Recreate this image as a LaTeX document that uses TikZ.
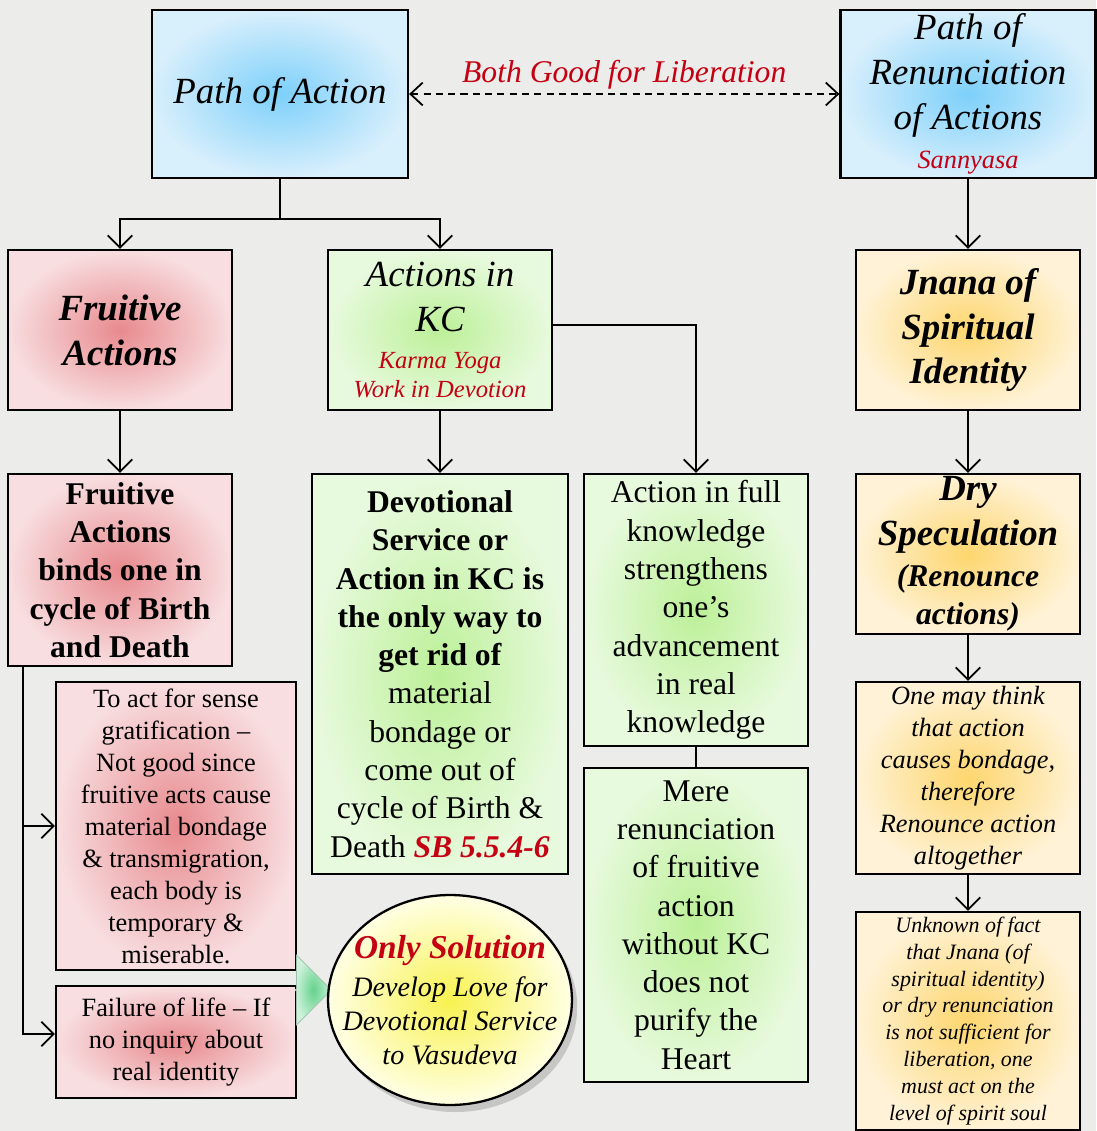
\documentclass[tikz,border=0pt]{standalone}
\usepackage{fontspec}
\setmainfont{Liberation Serif}
\usepackage{xcolor}
\usepackage{tikz}
\usetikzlibrary{positioning,arrows.meta,shapes.geometric,shapes.arrows,shadows}

\definecolor{bluein}{RGB}{125,208,250}
\definecolor{blueout}{RGB}{216,239,252}
\definecolor{redin}{RGB}{232,138,142}
\definecolor{redout}{RGB}{248,222,224}
\definecolor{greenin}{RGB}{188,240,152}
\definecolor{greenout}{RGB}{232,250,222}
\definecolor{orangein}{RGB}{253,214,110}
\definecolor{orangeout}{RGB}{255,242,214}
\definecolor{yellowin}{RGB}{248,242,80}
\definecolor{yellowout}{RGB}{255,255,228}
\definecolor{arrowin}{RGB}{100,210,140}
\definecolor{arrowout}{RGB}{205,242,218}
\definecolor{textred}{RGB}{196,0,18}
\definecolor{backdrop}{RGB}{236,236,234}

\newcommand{\redtext}[1]{{\color{textred}#1}}

\tikzset{
  box/.style={draw=black, line width=1.3pt, rectangle, align=center, inner sep=0pt},
  bluebox/.style={box, shading=radial, inner color=bluein, outer color=blueout},
  redbox/.style={box, shading=radial, inner color=redin, outer color=redout},
  greenbox/.style={box, shading=radial, inner color=greenin, outer color=greenout},
  orangebox/.style={box, shading=radial, inner color=orangein, outer color=orangeout},
  link/.style={black, line width=1pt, -{Straight Barb[length=7pt,width=14pt]}},
  headfont/.style={font=\fontsize{21}{25.6}\selectfont\itshape},
  headbold/.style={font=\fontsize{21}{25.6}\selectfont\bfseries\itshape},
  bodyfont/.style={font=\fontsize{18}{21.8}\selectfont},
  bodybold/.style={font=\fontsize{18}{21.8}\selectfont\bfseries},
  smallfont/.style={font=\fontsize{15}{18.2}\selectfont},
  smallital/.style={font=\fontsize{15}{18.2}\selectfont\itshape}
}

\begin{document}
\begin{tikzpicture}[x=0.02cm,y=-0.02cm]
            \useasboundingbox (0,0) rectangle (1096,1131);
            \fill [backdrop](0,0) rectangle (1096,1131);

            \node (pa) [bluebox, headfont, minimum width=5.12cm, minimum height=3.36cm] at (280,94) {Path of Action};
            \node (pr) [bluebox, headfont, minimum width=5.1cm, minimum height=3.36cm] at (968,94)
                {Path of\\Renunciation\\of Actions\\[-3pt]\redtext{\fontsize{15}{18}\selectfont Sannyasa}};

            \node (fa) [redbox, headbold, minimum width=4.48cm, minimum height=3.2cm] at (120,330) {Fruitive\\Actions};
            \node (kc) [greenbox, headfont, minimum width=4.48cm, minimum height=3.2cm] at (440,330)
                {Actions in\\KC\\[-4.5pt]\redtext{\fontsize{14}{16}\selectfont Karma Yoga}\\[-9.5pt]\redtext{\fontsize{14}{16}\selectfont Work in Devotion}};
            \node (jn) [orangebox, headbold, minimum width=4.48cm, minimum height=3.2cm] at (968,330) {Jnana of\\Spiritual\\Identity};

            \node (fb) [redbox, bodybold, minimum width=4.48cm, minimum height=3.84cm] at (120,570)
                {Fruitive\\Actions\\binds one in\\cycle of Birth\\and Death};
            \node (ds) [greenbox, bodyfont, minimum width=5.12cm, minimum height=8cm] at (440,674)
                {\textbf{Devotional}\\\textbf{Service or}\\\textbf{Action in KC is}\\\textbf{the only way to}\\\textbf{get rid of}\\material\\bondage or\\come out of\\cycle of Birth \&\\Death \redtext{\textbf{\textit{SB 5.5.4-6}}}};
            \node (af) [greenbox, bodyfont, minimum width=4.48cm, minimum height=5.44cm] at (696,610)
                {Action in full\\knowledge\\strengthens\\one’s\\advancement\\in real\\knowledge};
            \node (mr) [greenbox, bodyfont, minimum width=4.48cm, minimum height=6.28cm] at (696,925)
                {Mere\\renunciation\\of fruitive\\action\\without KC\\does not\\purify the\\Heart};

            \node (dsp) [orangebox, headbold, minimum width=4.48cm, minimum height=3.2cm] at (968,554)
                {Dry\\Speculation\\[-2pt]{\fontsize{18}{21}\selectfont(Renounce}\\[-4pt]{\fontsize{18}{21}\selectfont actions)}};
            \node (om) [orangebox, smallital, minimum width=4.48cm, minimum height=3.84cm] at (968,778)
                {One may think\\that action\\causes bondage,\\therefore\\Renounce action\\altogether};
            \node (uk) [orangebox, font=\fontsize{12.5}{15.3}\selectfont\itshape, minimum width=4.48cm, minimum height=4.36cm] at (968,1021)
                {Unknown of fact\\that Jnana (of\\spiritual identity)\\or dry renunciation\\is not sufficient for\\liberation, one\\must act on the\\level of spirit soul};

            \node (sg) [redbox, smallfont, minimum width=4.8cm, minimum height=5.76cm] at (176,826)
                {To act for sense\\gratification –\\Not good since\\fruitive acts cause\\material bondage\\\& transmigration,\\each body is\\temporary \&\\miserable.};
            \node (fl) [redbox, smallfont, minimum width=4.8cm, minimum height=2.24cm] at (176,1042)
                {Failure of life – If\\no inquiry about\\real identity};

            \node (go) [single arrow, draw=arrowin!60!black!50, line width=0.4pt, shading=radial, inner color=arrowin, outer color=arrowout,
                minimum height=0.72cm, minimum width=1.4cm, single arrow head extend=0.3cm, inner sep=0pt] at (313,990) {};
            \node (os) [ellipse, draw=black, line width=1.3pt, shading=radial, inner color=yellowin, outer color=yellowout,
                drop shadow={opacity=0.35, shadow xshift=3pt, shadow yshift=-4pt},
                minimum width=4.88cm, minimum height=4.2cm, align=center, inner xsep=-0.45cm, inner ysep=-0.2cm,
                font=\fontsize{16}{19.4}\selectfont\itshape] at (450,1000)
                {\redtext{\bfseries\fontsize{19}{22}\selectfont Only Solution}\\[2pt]Develop Love for\\Devotional Service\\to Vasudeva};

            \draw [black, line width=1pt](pa.south) -- ++(0,40) coordinate (split);
            \draw [link](split) -| (fa.north);
            \draw [link](split) -| (kc.north);
            \draw [link, dash pattern=on 4pt off 3pt, {Straight Barb[length=7pt,width=13pt]}-{Straight Barb[length=7pt,width=13pt]}](pa.east) --
                node [above=-1pt, font=\fontsize{18}{21}\selectfont\itshape, text=textred] (both) {Both Good for Liberation} (pr.west);
            \draw [link](pr.south) -- (jn.north);
            \draw [link](fa.south) -- (fb.north);
            \draw [link](kc.south) -- (ds.north);
            \draw [link]([yshift=0.1cm]kc.east) -| (af.north);
            \draw [black, line width=1pt](af.south) -- (mr.north);
            \draw [link](jn.south) -- (dsp.north);
            \draw [link](dsp.south) -- (om.north);
            \draw [link](om.south) -- (uk.north);
            \coordinate (trunk) at ([xshift=0.32cm]fb.south west);
            \draw [link](trunk) |- (sg.west);
            \draw [link](trunk) |- ([yshift=0.16cm]fl.west);
            \end{tikzpicture}
\end{document}
